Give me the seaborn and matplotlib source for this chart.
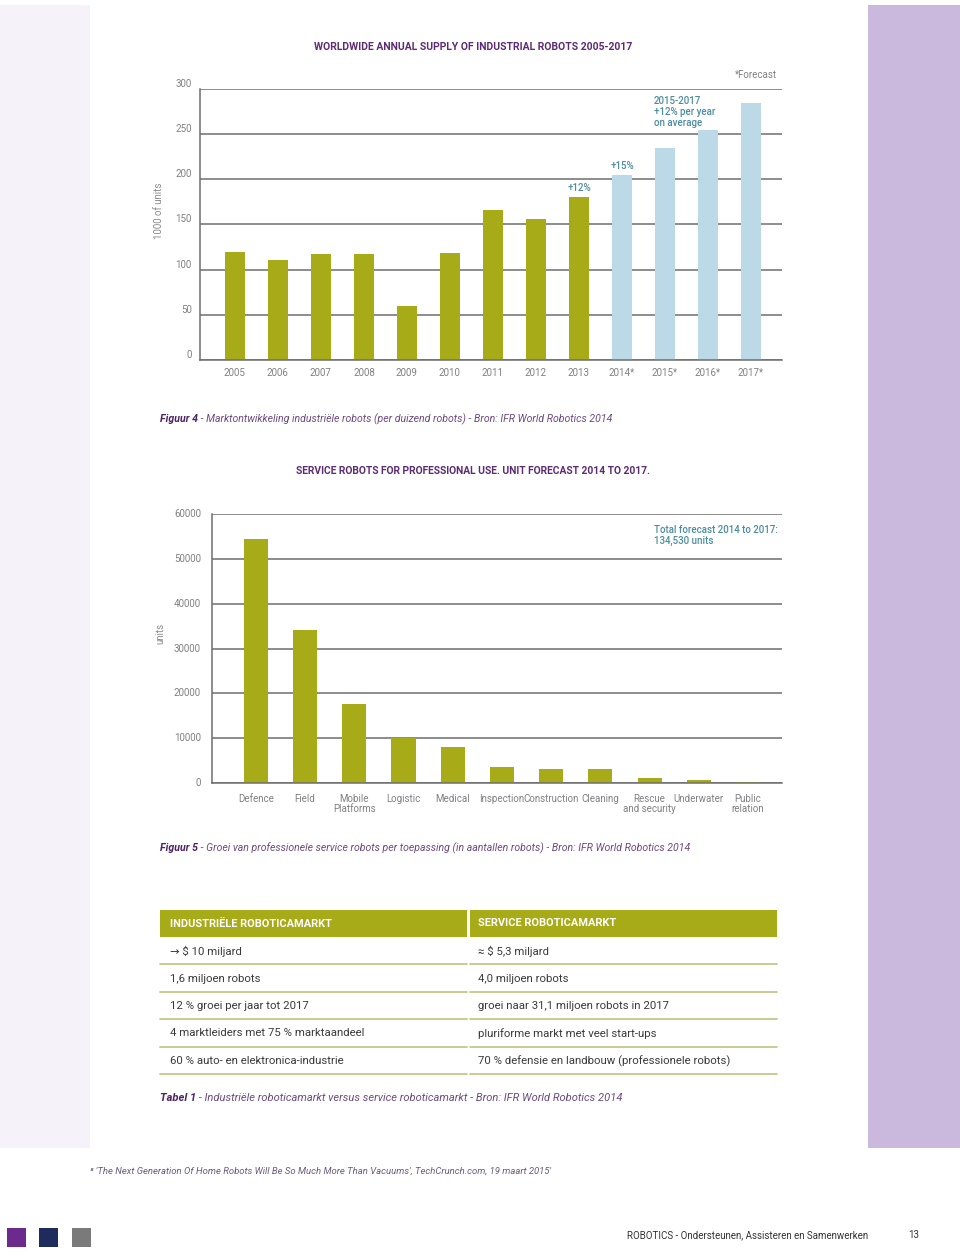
import numpy as np
import pandas as pd
import matplotlib
matplotlib.use("Agg")
import matplotlib.pyplot as plt
import matplotlib.transforms as mtransforms
from matplotlib.patches import Rectangle
import seaborn as sns

sns.set_theme(style="white")
plt.rcParams["font.family"] = ["Roboto", "DejaVu Sans"]

# %% Data
years = ["2005", "2006", "2007", "2008", "2009", "2010", "2011", "2012", "2013",
         "2014*", "2015*", "2016*", "2017*"]
supply = [120, 111, 117, 117, 60, 118, 166, 156, 180, 205, 235, 255, 285]
kind = ["actual"] * 9 + ["forecast"] * 4

apps = ["Defence", "Field", "Mobile\nPlatforms", "Logistic", "Medical", "Inspection",
        "Construction", "Cleaning", "Rescue\nand security", "Underwater", "Public\nrelation"]
units = [54400, 34100, 17600, 10000, 8100, 3600, 3100, 3100, 1100, 600, 300]

table_left = ["INDUSTRIËLE ROBOTICAMARKT", "→ $ 10 miljard", "1,6 miljoen robots",
              "12 % groei per jaar tot 2017", "4 marktleiders met 75 % marktaandeel",
              "60 % auto- en elektronica-industrie"]
table_right = ["SERVICE ROBOTICAMARKT", "≈ $ 5,3 miljard", "4,0 miljoen robots",
               "groei naar 31,1 miljoen robots in 2017", "pluriforme markt met veel start-ups",
               "70 % defensie en landbouw (professionele robots)"]

# %% Colours
OLIVE = "#a6ab17"
SKY = "#bcd9e7"
TEAL = "#4b8d9e"
PURPLE = "#5d2a74"
CAP = "#6d4a82"
GRID = "#6e6e6e"
TICK = "#808080"

W, H = 960, 1252
fig = plt.figure(figsize=(W / 100, H / 100), dpi=100)
fig.patch.set_facecolor("white")

# page in pixel coordinates
page = fig.add_axes([0, 0, 1, 1], zorder=0)
page.set_xlim(0, W)
page.set_ylim(H, 0)
page.axis("off")

page.add_patch(Rectangle((0, 5), 90, 1143, color="#f5f3f9", lw=0))
page.add_patch(Rectangle((868, 5), 92, 1143, color="#cab9dc", lw=0))


def px_axes(left, top, right, bottom):
    return fig.add_axes([left / W, 1 - bottom / H, (right - left) / W, (bottom - top) / H],
                        zorder=2)


def style_axes(ax, ticks, pad_y, shift_px):
    ax.set_facecolor("none")
    ax.set_yticks(ticks)
    ax.yaxis.grid(True, color=GRID, lw=1.1)
    ax.set_axisbelow(True)
    for s in ["top", "right"]:
        ax.spines[s].set_visible(False)
    for s in ["left", "bottom"]:
        ax.spines[s].set_color(GRID)
        ax.spines[s].set_linewidth(1.1)
    ax.tick_params(axis="y", length=0, pad=pad_y, labelsize=7, labelcolor=TICK)
    ax.tick_params(axis="x", length=0, labelsize=7, labelcolor=TICK)
    off = mtransforms.ScaledTranslation(0, shift_px / 100, fig.dpi_scale_trans)
    for t in ax.yaxis.get_major_ticks():
        t.label1.set_transform(t.label1.get_transform() + off)
    ax.set_xlabel("")


def caption(y, bold, rest, size=7.6):
    t = page.text(160, y, bold, fontsize=size, style="italic", fontweight="bold",
                  color="#4e2266", va="center")
    page.annotate(rest, xy=(1, 0.5), xycoords=t, va="center", ha="left",
                  fontsize=size, style="italic", color=CAP)


# %% Chart 1 — worldwide annual supply
page.text(473, 47, "WORLDWIDE ANNUAL SUPPLY OF INDUSTRIAL ROBOTS 2005-2017",
          ha="center", va="center", fontsize=7.45, fontweight="bold", color=PURPLE)
page.text(777, 75, "*Forecast", ha="right", va="center", fontsize=7, color=TICK)

df1 = pd.DataFrame({"year": years, "supply": supply, "kind": kind})
ax1 = px_axes(200, 89, 782, 360)
sns.barplot(data=df1, x="year", y="supply", hue="kind",
            palette={"actual": OLIVE, "forecast": SKY}, saturation=1, linewidth=0,
            dodge=False, width=0.47, legend=False, ax=ax1)
ax1.set_ylim(0, 300)
ax1.set_xlim(-0.81, 12.72)
style_axes(ax1, range(0, 301, 50), 6, 6)
ax1.tick_params(axis="x", pad=6)
ax1.set_ylabel("1000 of units", fontsize=7, color="#8a8a8a")
ax1.yaxis.set_label_coords(-0.062, 0.55)

for i, lab in [(8, "+12%"), (9, "+15%")]:
    ax1.annotate(lab, xy=(i, supply[i]), xytext=(0, 3), textcoords="offset points",
                 ha="center", va="bottom", fontsize=7, color=TEAL, fontweight="medium")
page.text(654, 96, "2015-2017\n+12% per year\non average", ha="left", va="top",
          fontsize=7, color=TEAL, fontweight="medium", linespacing=1.15)

caption(419, "Figuur 4",
        " - Marktontwikkeling industriële robots (per duizend robots) - Bron: IFR World Robotics 2014")

# %% Chart 2 — service robots
page.text(473, 471, "SERVICE ROBOTS FOR PROFESSIONAL USE. UNIT FORECAST 2014 TO 2017.",
          ha="center", va="center", fontsize=7.4, fontweight="bold", color=PURPLE)

df2 = pd.DataFrame({"app": apps, "units": units})
ax2 = px_axes(212, 514, 782, 783)
sns.barplot(data=df2, x="app", y="units", color=OLIVE, saturation=1, linewidth=0,
            width=0.49, ax=ax2)
ax2.set_ylim(0, 60000)
ax2.set_xlim(-0.89, 10.69)
style_axes(ax2, range(0, 60001, 10000), 8, 1)
ax2.tick_params(axis="x", pad=8)
for lbl in ax2.get_xticklabels():
    lbl.set_linespacing(1.0)
ax2.set_ylabel("units", fontsize=7, color="#8a8a8a")
ax2.yaxis.set_label_coords(-0.082, 0.555)
page.text(654, 525, "Total forecast 2014 to 2017:\n134,530 units", ha="left", va="top",
          fontsize=7, color=TEAL, fontweight="medium", linespacing=1.15)

caption(848, "Figuur 5",
        " - Groei van professionele service robots per toepassing (in aantallen robots) - Bron: IFR World Robotics 2014")

# %% Table
cols = [(160, 467, 170, table_left), (470, 777, 478, table_right)]
for x0, x1, xt, rows in cols:
    page.add_patch(Rectangle((x0, 910), x1 - x0, 27, color=OLIVE, lw=0))
    page.text(xt, 923.5, rows[0], va="center", fontsize=7.9,
              fontweight="bold", color="white")
    for k, txt in enumerate(rows[1:]):
        yc = 951 + k * 27.5
        page.text(xt, yc, txt, va="center", fontsize=8.2, color="#3a3a3a")
        page.plot([x0, x1], [yc + 13, yc + 13], color="#c5c886", lw=1.3)

caption(1098, "Tabel 1",
        " - Industriële roboticamarkt versus service roboticamarkt - Bron: IFR World Robotics 2014",
        size=8.0)

# %% Footer
page.text(90, 1171, "⁸ 'The Next Generation Of Home Robots Will Be So Much More Than Vacuums', "
          "TechCrunch.com, 19 maart 2015'", va="center", fontsize=6.8, style="italic",
          color="#6b5a7b")
for x, c in [(7, "#6b2a8c"), (39, "#1f2b5c"), (72, "#7a7a7a")]:
    page.add_patch(Rectangle((x, 1228), 19, 19, color=c, lw=0))
page.text(868, 1235, "ROBOTICS - Ondersteunen, Assisteren en Samenwerken", ha="right",
          va="center", fontsize=7, color="#333333")
page.text(919, 1235, "13", ha="right", va="center", fontsize=7, color="#333333")

plt.savefig("out.png", dpi=100)
